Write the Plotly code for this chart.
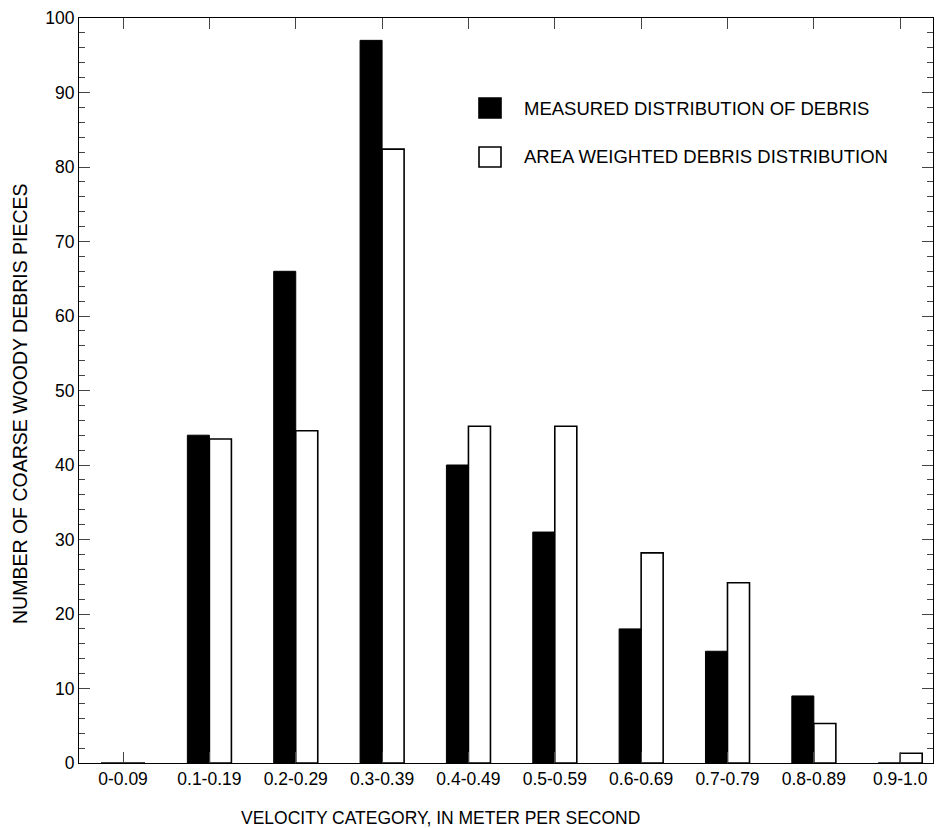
import plotly.graph_objects as go

categories = ["0-0.09", "0.1-0.19", "0.2-0.29", "0.3-0.39", "0.4-0.49",
              "0.5-0.59", "0.6-0.69", "0.7-0.79", "0.8-0.89", "0.9-1.0"]
measured = [0, 44, 66, 97, 40, 31, 18, 15, 9, 0]
area_weighted = [0, 43.5, 44.6, 82.4, 45.2, 45.2, 28.2, 24.2, 5.3, 1.3]
legend_labels = ["MEASURED DISTRIBUTION OF DEBRIS", "AREA WEIGHTED DEBRIS DISTRIBUTION"]
x_title = "VELOCITY CATEGORY, IN METER PER SECOND"
y_title = "NUMBER OF COARSE WOODY DEBRIS PIECES"

FONT = "Liberation Sans, Arial, Helvetica, sans-serif"

fig = go.Figure()
fig.add_trace(go.Bar(x=categories, y=measured, name=legend_labels[0],
                     marker=dict(color="black", line=dict(color="black", width=1))))
fig.add_trace(go.Bar(x=categories, y=area_weighted, name=legend_labels[1],
                     marker=dict(color="white", line=dict(color="black", width=1.6))))

# manual legend / titles (paper coords)
W, H = 941, 828
ml, mr, mt, mb = 79, 8, 18, 65
pw, ph = W - ml - mr, H - mt - mb
def px(x): return (x - ml) / pw
def py(y): return 1 - (y - mt) / ph

legend_rows = [(108, "black"), (157, "white")]
for (yc, col), label in zip(legend_rows, legend_labels):
    fig.add_shape(type="rect", xref="paper", yref="paper",
                  x0=px(479), x1=px(501), y0=py(yc - 10), y1=py(yc + 10),
                  fillcolor=col, line=dict(color="black", width=1.6))
    fig.add_annotation(xref="paper", yref="paper", x=px(522), y=py(yc),
                       text=label, showarrow=False, xanchor="left", yanchor="middle",
                       font=dict(family=FONT, size=18.5, color="black"))

fig.add_annotation(xref="paper", yref="paper", x=px(440), y=py(818),
                   text=x_title, showarrow=False, xanchor="center", yanchor="middle",
                   font=dict(family=FONT, size=17.5, color="black"))
fig.add_annotation(xref="paper", yref="paper", x=px(20), y=py(404),
                   text=y_title, showarrow=False, xanchor="center", yanchor="middle",
                   textangle=-90, font=dict(family=FONT, size=19.5, color="black"))

fig.update_layout(
    width=W, height=H,
    margin=dict(l=ml, r=mr, t=mt, b=mb),
    paper_bgcolor="white", plot_bgcolor="white",
    barmode="group", bargap=0.49, bargroupgap=0,
    showlegend=False,
    font=dict(family=FONT, size=17, color="black"),
    xaxis=dict(
        type="category", range=[-0.51, 9.38], automargin=False,
        showline=True, linecolor="black", linewidth=1, mirror="ticks",
        ticks="inside", ticklen=11, tickcolor="#444", tickwidth=1,
        showgrid=False, zeroline=False,
        tickfont=dict(size=17.5),
    ),
    yaxis=dict(
        range=[0, 100], tickmode="linear", tick0=0, dtick=10, automargin=False,
        showline=True, linecolor="black", linewidth=1, mirror="ticks",
        ticks="inside", ticklen=11, tickcolor="#444", tickwidth=1,
        minor=dict(ticks="inside", ticklen=6, dtick=2, tickcolor="#444", showgrid=False),
        showgrid=False, zeroline=False,
        tickfont=dict(size=17.5),
    ),
)

fig.write_html("out.html")
